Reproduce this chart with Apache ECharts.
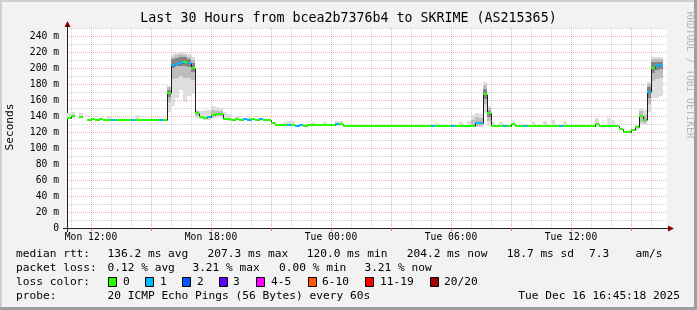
<!DOCTYPE html>
<html><head><meta charset="utf-8">
<script src="https://cdn.jsdelivr.net/npm/echarts@6/dist/echarts.min.js"></script>
<style>html,body{margin:0;padding:0;background:#f2f2f2;}#c{width:697px;height:310px;}</style>
</head><body><div id="c"></div>
<script>
// ---- time base: 12-minute buckets starting Mon 10:48 (minutes since Mon 00:00)
const T0 = 648;
const STEP = 12;
const T1 = 2448;

// ---- axis ticks
const xTickValues = [720, 1080, 1440, 1800, 2160];
const xTickLabels = ['Mon 12:00', 'Mon 18:00', 'Tue 00:00', 'Tue 06:00', 'Tue 12:00'];
const xMajorTicks = [720, 900, 1080, 1260, 1440, 1620, 1800, 1980, 2160, 2340];
const yTickValues = [0, 20, 40, 60, 80, 100, 120, 140, 160, 180, 200, 220, 240];
const yTickLabels = ['0', '20 m', '40 m', '60 m', '80 m', '100 m', '120 m', '140 m', '160 m', '180 m', '200 m', '220 m', '240 m'];

// ---- median rtt (ms) per bucket
const median = [
  137.5,139.6,null,138.7,null,135,136.7,135.4,136.7,135.4,
  135.4,135.4,135.4,135.4,135.4,135.4,135.4,135.4,135.4,135.4,
  135.4,135.4,135.4,135.4,135.4,168.3,204,205,206,207.3,
  206,200.4,143.3,139.2,138,138.7,141,142.5,142,136.7,
  136.7,135,136.7,135,136.7,135,136.7,135,136.7,135,
  135,131.7,129.2,129.2,129.2,129.2,129.2,127.5,129.2,127.5,
  128.3,128.3,128.3,128.3,128.3,128.3,128.3,130,130,128,
  128,128,128,128,128,128,128,128,128,128,
  128,128,128,128,128,128,128,128,128,128,
  128,128,128,128,128,128,128,128,128,128,
  128,128,131.5,131,167,143.3,128,128,128,128,
  128,130,128,128,128,128,128,128,128,128,
  128,128,128,128,128,128,128,128,128,128,
  128,128,130,128,128,128,128,128,123.3,120.5,
  120,122,126,140.4,135,170.4,199.6,202,204.2,null
];
// ---- lost pings (of 20) per bucket
const loss = [
  0,0,0,0,0,0,0,0,0,0,
  0,1,0,0,0,0,1,0,0,0,
  0,0,0,1,0,0,1,1,1,0,
  1,0,0,0,0,1,0,0,0,0,
  0,0,0,0,1,1,0,0,1,0,
  0,0,0,0,0,1,0,1,1,0,
  0,0,0,0,0,0,0,1,0,0,
  0,0,0,0,0,0,0,0,0,0,
  0,0,0,0,0,0,0,0,0,0,
  0,1,0,0,0,0,1,0,0,0,
  0,0,1,1,0,0,0,0,0,1,
  0,0,0,0,1,0,0,0,0,0,
  0,0,0,1,0,0,0,0,0,0,
  0,0,0,0,0,0,0,0,0,0,
  0,0,0,0,0,1,0,1,1,0
];
// ---- smoke bands [bucket, low ms, high ms]
const smokeOuter = [
  [0,136,144],[1,137,145],[3,137,144],[10,134,139],[17,134,141],
  [25,145,178],[26,153,217],[27,162,219],[28,172,220],[29,158,219],[30,165,217],[31,168,214],
  [32,138,148],[33,136,146],[34,135,147],[35,135,148],[36,137,152],[37,138,151],[38,139,150],[39,135,145],[40,134,142],[42,135,140],[45,134,139],
  [54,128,133],[55,128,134],[56,128,134],[61,127,132],[64,127,133],[67,127,134],[68,127,134],
  [92,127,131],[98,127,132],[100,127,134],[101,127,141],[102,126,144],[103,126,143],[104,145,182],[105,128,153],[106,127,133],[108,127,132],[111,128,133],
  [116,127,133],[119,127,134],[121,127,135],[124,127,134],[132,126,137],[135,127,137],[136,127,135],
  [142,123,130],[143,129,150],[144,129,147],[145,145,182],[146,162,214],[147,162,214],[148,165,214]
];
const smokeMid = [
  [25,158,176],[26,186,214],[27,188,216],[28,190,217],[29,188,216],[30,188,214],[31,185,210],
  [32,140,146],[36,139,147],[37,140,146],[38,140,146],
  [101,128,135],[102,128,139],[103,128,138],[104,155,179],[105,134,150],
  [143,133,146],[144,131,141],[145,155,180],[146,184,211],[147,186,211],[148,188,211]
];
const smokeInner = [
  [25,164,172],[26,200,211],[27,202,213],[28,203,214],[29,203,214],[30,201,211],[31,195,206],
  [104,161,174],[105,139,146],[145,163,176],[146,194,207],[147,197,207],[148,199,208]
];

// ---- legend values
const rttStats = [136.2, 207.3, 120.0, 204.2, 18.7];
const rttStatNames = ['avg', 'max', 'min', 'now', 'sd'];
const amPerSec = 7.3;
const lossStats = [0.12, 3.21, 0.00, 3.21];
const lossStatNames = ['avg', 'max', 'min', 'now'];
const lossLegend = ['0', '1', '2', '3', '4-5', '6-10', '11-19', '20/20'];
const lossColors = ['#26ff00', '#00b8ff', '#0059ff', '#5e00ff', '#ff00ff', '#ff5500', '#ff0000', '#a00000'];
const titleText = 'Last 30 Hours from bcea2b7376b4 to SKRIME (AS215365)';
const probeText = '20 ICMP Echo Pings (56 Bytes) every 60s';
const dateText = 'Tue Dec 16 16:45:18 2025';

// ---------------------------------------------------------------
const MONO = '"DejaVu Sans Mono", monospace';
const GRID_MINOR = 'rgba(143,143,143,0.42)';
const GRID_MAJOR = 'rgba(222,79,79,0.45)';
const T = 'rgba(0,0,0,0)';

function lossIdx(n) {
  if (n <= 3) return n; if (n <= 5) return 4; if (n <= 10) return 5; if (n <= 19) return 6; return 7;
}

function smokeSeries(list, color, z) {
  return {
    type: 'custom', z: z, silent: true, clip: true,
    data: list.map(d => [T0 + d[0] * STEP, d[1], d[2]]),
    renderItem: function (params, api) {
      const x0 = api.value(0);
      const a = api.coord([x0, api.value(2)]);
      const b = api.coord([x0 + STEP, api.value(1)]);
      const xa = Math.round(a[0]), xb = Math.round(b[0]);
      const ya = Math.round(a[1]), yb = Math.round(b[1]);
      return { type: 'rect', shape: { x: xa, y: ya, width: xb - xa, height: Math.max(1, yb - ya) }, style: { fill: color } };
    }
  };
}

const lineData = [];
const bandData = [];
for (let i = 0; i < median.length; i++) {
  if (median[i] == null) continue;
  const prev = (i > 0 && median[i - 1] != null) ? median[i - 1] : -1;
  lineData.push([T0 + i * STEP, median[i], prev]);
  bandData.push([T0 + i * STEP, median[i], lossIdx(loss[i])]);
}

const lineSeries = {
  type: 'custom', z: 5, silent: true, clip: true,
  data: lineData,
  renderItem: function (params, api) {
    const x0 = api.value(0), m = api.value(1), p = api.value(2);
    const a = api.coord([x0, m]);
    const b = api.coord([x0 + STEP, m]);
    const y = Math.round(a[1]) + 0.5;
    const x = Math.round(a[0]) + 0.5;
    const children = [{ type: 'line', shape: { x1: Math.round(a[0]), y1: y, x2: Math.round(b[0]), y2: y }, style: { stroke: '#202020', lineWidth: 1 } }];
    if (p >= 0) {
      const c = api.coord([x0, p]);
      children.push({ type: 'line', shape: { x1: x, y1: Math.round(c[1]) + 0.5, x2: x, y2: y }, style: { stroke: '#202020', lineWidth: 1 } });
    }
    return { type: 'group', children: children };
  }
};

const bandSeries = {
  type: 'custom', z: 6, silent: true, clip: true,
  data: bandData,
  renderItem: function (params, api) {
    const x0 = api.value(0), m = api.value(1), ci = api.value(2);
    const a = api.coord([x0, m]);
    const b = api.coord([x0 + STEP, m]);
    const xa = Math.round(a[0]), xb = Math.round(b[0]);
    const yc = Math.round(a[1]);
    return { type: 'rect', shape: { x: xa, y: yc - 1, width: xb - xa, height: 2 }, style: { fill: lossColors[ci] } };
  }
};

// x split line colour cycle: ticks every 12 min from 10:48, hour lines grey, 3-hour lines red
const xSplitColors = [T, GRID_MINOR, T, T, T, T, GRID_MAJOR, T, T, T, T, GRID_MINOR, T, T, T];

// ---- graphic texts
const G = [];
function txt(s, x, y, size, align, extra, color) {
  const o = Object.assign({
    type: 'text', x: x, y: y, silent: true,
    style: { text: s, font: size + 'px ' + MONO, fill: color || '#000', textAlign: align || 'left', align: align || 'left', textVerticalAlign: 'middle', verticalAlign: 'middle' }
  }, extra || {});
  G.push(o);
}
// frame shading
G.push({ type: 'rect', silent: true, shape: { x: 0, y: 0, width: 697, height: 2 }, style: { fill: '#cfcfcf' } });
G.push({ type: 'rect', silent: true, shape: { x: 0, y: 0, width: 2, height: 310 }, style: { fill: '#cfcfcf' } });
G.push({ type: 'rect', silent: true, shape: { x: 0, y: 307, width: 697, height: 3 }, style: { fill: '#9e9e9e' } });
G.push({ type: 'rect', silent: true, shape: { x: 694, y: 0, width: 3, height: 310 }, style: { fill: '#9e9e9e' } });
// axis arrows
G.push({ type: 'line', silent: true, shape: { x1: 67.5, y1: 23, x2: 67.5, y2: 28 }, style: { stroke: '#212121', lineWidth: 1 } });
G.push({ type: 'polygon', silent: true, shape: { points: [[64.5, 27], [67.5, 21], [70.5, 27]] }, style: { fill: '#800000' } });
G.push({ type: 'line', silent: true, shape: { x1: 667, y1: 228.5, x2: 671, y2: 228.5 }, style: { stroke: '#212121', lineWidth: 1 } });
G.push({ type: 'polygon', silent: true, shape: { points: [[668, 225.5], [674, 228.5], [668, 231.5]] }, style: { fill: '#800000' } });
G.push({ type: 'line', silent: true, shape: { x1: 63, y1: 228.5, x2: 67, y2: 228.5 }, style: { stroke: '#212121', lineWidth: 1 } });
G.push({ type: 'line', silent: true, shape: { x1: 67.5, y1: 228, x2: 67.5, y2: 232 }, style: { stroke: '#212121', lineWidth: 1 } });

txt(titleText, 348.5, 18.5, 13.3, 'center');
txt('Seconds', 10, 127, 11.1, 'center', { rotation: Math.PI / 2 });
txt('RRDTOOL / TOBI OETIKER', 689, 75, 9.6, 'center', { rotation: -Math.PI / 2 }, '#b4b4b4');

const LF = 11.2;
const row1 = 254.5, row2 = 268.5, row3 = 282.5, row4 = 296.5;
txt('median rtt:', 16, row1, LF);
const rttX = [107.5, 207.5, 306.7, 406.7, 506.7];
rttStats.forEach((v, k) => txt(v.toFixed(1) + ' ms ' + rttStatNames[k], rttX[k], row1, LF));
txt(amPerSec.toFixed(1), 589, row1, LF);
txt('am/s', 635.6, row1, LF);

txt('packet loss:', 16, row2, LF);
const lossX = [107.5, 192.4, 279, 364.4];
lossStats.forEach((v, k) => txt(v.toFixed(2) + ' % ' + lossStatNames[k], lossX[k], row2, LF));

txt('loss color:', 16, row3, LF);
const boxX = [108, 145, 182, 219, 256, 308, 365, 430];
const boxLabelX = [123, 160, 197, 233, 271, 322, 380, 444];
lossLegend.forEach((s, k) => {
  G.push({ type: 'rect', silent: true, shape: { x: boxX[k] + 0.5, y: row3 - 5, width: 8, height: 9 }, style: { fill: lossColors[k], stroke: '#000', lineWidth: 1 } });
  txt(s, boxLabelX[k], row3, LF);
});

txt('probe:', 16, row4, LF);
txt(probeText, 107.5, row4, LF);
txt(dateText, 680, row4, LF, 'right');

const option = {
  animation: false,
  backgroundColor: '#f2f2f2',
  grid: { left: 67, top: 28, width: 600, height: 200, show: true, backgroundColor: '#ffffff', borderWidth: 0, containLabel: false },
  xAxis: [{
    type: 'value', min: T0, max: T1, interval: STEP,
    axisLine: { show: true, onZero: false, lineStyle: { color: '#212121', width: 1 } },
    axisTick: { show: false },
    axisLabel: {
      show: true, interval: 0, margin: 4, color: '#000', fontFamily: MONO, fontSize: 9.7, hideOverlap: false,
      formatter: function (v) { const k = xTickValues.indexOf(v); return k >= 0 ? xTickLabels[k] : ''; }
    },
    splitLine: { show: true, lineStyle: { color: xSplitColors, width: 1, type: [1, 1] } }
  }, {
    type: 'value', min: T0, max: T1, position: 'bottom', gridIndex: 0,
    axisLine: { show: false }, axisLabel: { show: false }, splitLine: { show: false },
    axisTick: { show: true, customValues: xMajorTicks, length: 3, lineStyle: { color: 'rgba(222,79,79,0.8)', width: 1 } }
  }],
  yAxis: {
    type: 'value', min: 0, max: 250, interval: 10,
    axisLine: { show: true, onZero: false, lineStyle: { color: '#212121', width: 1 } },
    axisTick: { show: false },
    axisLabel: {
      show: true, margin: 8, color: '#000', fontFamily: MONO, fontSize: 9.7,
      formatter: function (v) { const k = yTickValues.indexOf(v); return k >= 0 ? yTickLabels[k] : ''; }
    },
    splitLine: { show: true, lineStyle: { color: [GRID_MAJOR, GRID_MINOR], width: 1, type: [1, 1] } }
  },
  series: [
    smokeSeries(smokeOuter, '#dedede', 2),
    smokeSeries(smokeMid, '#bdbdbd', 3),
    smokeSeries(smokeInner, '#858585', 4),
    lineSeries,
    bandSeries
  ],
  graphic: { elements: G }
};
const chart = echarts.init(document.getElementById('c'), null, { renderer: 'canvas' });
chart.setOption(option);
</script></body></html>
